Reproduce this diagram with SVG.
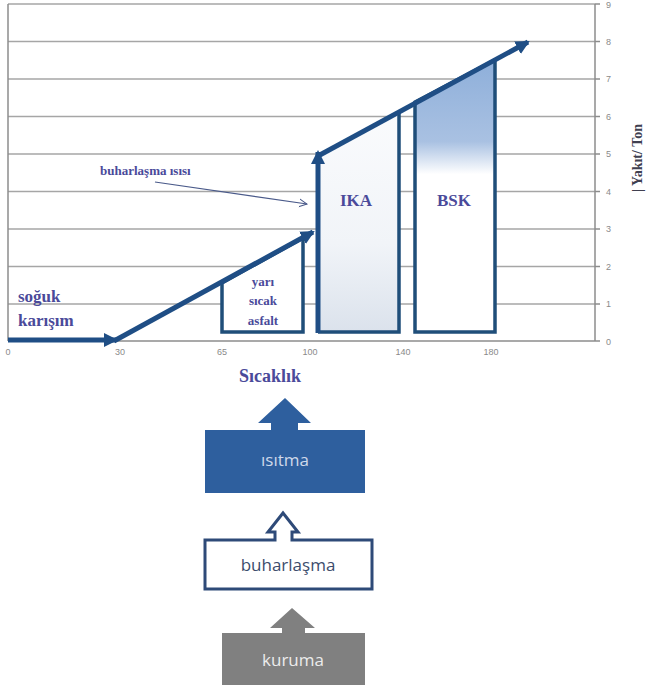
<svg xmlns="http://www.w3.org/2000/svg" width="647" height="693" viewBox="0 0 647 693">
<defs>
<style>
.grid{stroke:#a6a6a6;stroke-width:1.5;fill:none}
.axis{stroke:#8c8c8c;stroke-width:1.5;fill:none}
.big{stroke:#1f4e85;stroke-width:5;fill:none}
.box{stroke:#1f4e79;stroke-width:3.5}
.lbl{font-family:"Liberation Serif",serif;font-weight:bold;fill:#4a4a9a}
.tick{font-family:"Liberation Sans",sans-serif;font-size:9px;fill:#8a8a8a}
.nodeT{font-family:"Open Sans","Liberation Sans",sans-serif;font-size:17px;text-anchor:middle}
</style>
<marker id="ah" markerUnits="userSpaceOnUse" markerWidth="16" markerHeight="16" refX="12" refY="7" orient="auto" viewBox="0 0 16 14">
<path d="M0,0 L14,7 L0,14 z" fill="#1f4e85"/>
</marker>
<marker id="thin" markerUnits="userSpaceOnUse" markerWidth="10" markerHeight="10" refX="8" refY="4" orient="auto" viewBox="0 0 10 8">
<path d="M0,0 L8,4 L0,8" fill="none" stroke="#4a5a8a" stroke-width="1"/>
</marker>
<linearGradient id="gIKA" x1="0" y1="0" x2="0" y2="1">
<stop offset="0" stop-color="#fafbfd"/>
<stop offset="0.6" stop-color="#f1f4f8"/>
<stop offset="1" stop-color="#dbe2ec"/>
</linearGradient>
<linearGradient id="gBSK" gradientUnits="userSpaceOnUse" x1="0" y1="60" x2="0" y2="332">
<stop offset="0" stop-color="#8eafda"/>
<stop offset="0.3" stop-color="#a9c1e2"/>
<stop offset="0.42" stop-color="#ffffff"/>
<stop offset="1" stop-color="#ffffff"/>
</linearGradient>
</defs>
<rect width="647" height="693" fill="#ffffff"/>

<g id="chart">
<line class="grid" x1="8" y1="4" x2="595" y2="4"/>
<line class="grid" x1="8" y1="41.5" x2="595" y2="41.5"/>
<line class="grid" x1="8" y1="79" x2="595" y2="79"/>
<line class="grid" x1="8" y1="116.5" x2="595" y2="116.5"/>
<line class="grid" x1="8" y1="154" x2="595" y2="154"/>
<line class="grid" x1="8" y1="191.5" x2="595" y2="191.5"/>
<line class="grid" x1="8" y1="229" x2="595" y2="229"/>
<line class="grid" x1="8" y1="266.5" x2="595" y2="266.5"/>
<line class="grid" x1="8" y1="304" x2="595" y2="304"/>
<line class="axis" x1="8" y1="341" x2="595" y2="341"/>
<line class="axis" x1="8" y1="4" x2="8" y2="341"/>
<line class="axis" x1="595" y1="4" x2="595" y2="341"/>
<g class="axis">
<line x1="595" y1="4" x2="600" y2="4"/><line x1="595" y1="41.5" x2="600" y2="41.5"/><line x1="595" y1="79" x2="600" y2="79"/><line x1="595" y1="116.5" x2="600" y2="116.5"/><line x1="595" y1="154" x2="600" y2="154"/><line x1="595" y1="191.5" x2="600" y2="191.5"/><line x1="595" y1="229" x2="600" y2="229"/><line x1="595" y1="266.5" x2="600" y2="266.5"/><line x1="595" y1="304" x2="600" y2="304"/><line x1="595" y1="341" x2="600" y2="341"/>
</g>
<g class="tick">
<text x="606" y="8">9</text>
<text x="606" y="45">8</text>
<text x="606" y="82">7</text>
<text x="606" y="120">6</text>
<text x="606" y="157">5</text>
<text x="606" y="195">4</text>
<text x="606" y="232">3</text>
<text x="606" y="270">2</text>
<text x="606" y="307">1</text>
<text x="606" y="345">0</text>
</g>
<g class="tick" text-anchor="middle">
<text x="8" y="355">0</text>
<text x="120" y="355">30</text>
<text x="222" y="355">65</text>
<text x="310" y="355">100</text>
<text x="403" y="355">140</text>
<text x="491" y="355">180</text>
</g>
<text transform="translate(642,158) rotate(-90)" text-anchor="middle" font-family="Liberation Serif, serif" font-weight="bold" font-size="14" fill="#404050">| Yakıt/ Ton</text>
</g>

<g id="yari-sicak-asfalt">
<polygon class="box" points="222,332 222,283 303,238 303,332" fill="#ffffff"/>
<text class="lbl" font-size="13" text-anchor="middle"><tspan x="263" y="286">yarı</tspan><tspan x="263" y="305">sıcak</tspan><tspan x="263" y="325">asfalt</tspan></text>
</g>

<g id="ika">
<polygon points="318,332 318,155 399,111 399,332" fill="url(#gIKA)"/>
<polyline class="box" points="318,332 399,332 399,111" fill="none"/>
<text class="lbl" x="356" y="206" font-size="17" text-anchor="middle" fill="#4a4a8a">IKA</text>
</g>

<g id="bsk">
<polygon class="box" points="415,332 415,102 495,60 495,332" fill="url(#gBSK)"/>
<text class="lbl" x="454" y="206" font-size="17" text-anchor="middle" fill="#4a5a8a">BSK</text>
</g>

<g id="labels">
<text class="lbl" x="18" y="302" font-size="17">soğuk</text>
<text class="lbl" x="18" y="326" font-size="17">karışım</text>
<text class="lbl" x="100" y="175" font-size="13">buharlaşma ısısı</text>
<text class="lbl" x="270" y="382" font-size="18" text-anchor="middle" fill="#3a3a9a">Sıcaklık</text>
</g>

<g id="connectors">
<line class="big" x1="8" y1="340" x2="116" y2="340" marker-end="url(#ah)"/>
<line class="big" x1="114" y1="341" x2="313" y2="232" marker-end="url(#ah)"/>
<line class="big" x1="318" y1="333" x2="318" y2="152" marker-end="url(#ah)"/>
<line class="big" x1="318" y1="156" x2="528" y2="42" marker-end="url(#ah)"/>
<line x1="155" y1="182" x2="307" y2="204" stroke="#4a5a8a" stroke-width="1.2" marker-end="url(#thin)"/>
</g>

<g id="isitma">
<path d="M285,398 L311,423 L298,423 L298,430 L365,430 L365,493 L205,493 L205,430 L271,430 L271,423 L258,423 Z" fill="#2e5f9e"/>
<text class="nodeT" x="285" y="466" fill="#cfd9ea">ısıtma</text>
</g>

<g id="buharlasma">
<path d="M283,513 L298,532 L292,532 L292,540 L372,540 L372,589 L205,589 L205,540 L275,540 L275,532 L268,532 Z" fill="#ffffff" stroke="#2e4a78" stroke-width="3"/>
<text class="nodeT" x="288" y="571" fill="#3c4c6c">buharlaşma</text>
</g>

<g id="kuruma">
<path d="M292,608 L315,628 L305,628 L305,633 L365,633 L365,685 L222,685 L222,633 L282,633 L282,628 L270,628 Z" fill="#808080"/>
<text class="nodeT" x="293" y="666" fill="#ececec">kuruma</text>
</g>
</svg>
